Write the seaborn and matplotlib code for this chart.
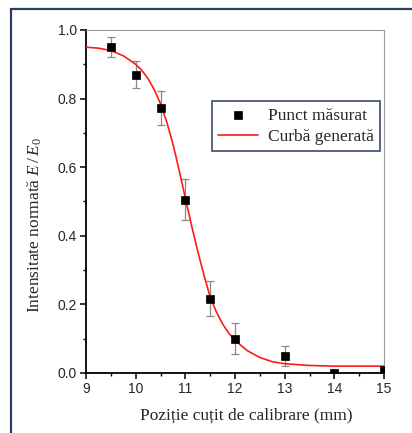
import matplotlib
matplotlib.use("Agg")
import matplotlib.pyplot as plt
import seaborn as sns
import pandas as pd
from matplotlib.patches import Rectangle
from matplotlib.ticker import MultipleLocator

# measured points
pos_mm = [9.5, 10.0, 10.5, 11.0, 11.5, 12.0, 13.0, 14.0, 15.0]
intensity = [0.950, 0.870, 0.773, 0.505, 0.217, 0.100, 0.050, 0.000, 0.010]
err = [0.030, 0.040, 0.050, 0.060, 0.050, 0.045, 0.030, 0.0, 0.0]

# generated curve
curve_x = [9.0, 9.25, 9.5, 9.75, 10.0, 10.125, 10.25, 10.375, 10.5, 10.625, 10.75,
           10.875, 11.0, 11.125, 11.25, 11.375, 11.5, 11.625, 11.75, 11.875, 12.0,
           12.25, 12.5, 12.75, 13.0, 13.5, 14.0, 15.0]
curve_y = [0.950, 0.947, 0.940, 0.925, 0.900, 0.882, 0.858, 0.826, 0.785, 0.732, 0.668,
           0.592, 0.510, 0.430, 0.355, 0.285, 0.222, 0.178, 0.143, 0.116, 0.095,
           0.065, 0.045, 0.033, 0.027, 0.022, 0.020, 0.020]

xticks = [9, 10, 11, 12, 13, 14, 15]
yticks = [0.0, 0.2, 0.4, 0.6, 0.8, 1.0]
label_points = "Punct măsurat"
label_curve = "Curbă generată"
xlabel = "Poziție cuțit de calibrare (mm)"
ylabel = r"Intensitate normată $E\,/\,E_0$"

sns.set_theme(style="ticks")
plt.rcParams["font.family"] = ["Liberation Sans", "DejaVu Sans"]
plt.rcParams["mathtext.fontset"] = "custom"
plt.rcParams["mathtext.rm"] = "Liberation Serif"
plt.rcParams["mathtext.it"] = "Liberation Serif:italic"

df_pts = pd.DataFrame({"x": pos_mm, "y": intensity})
df_curve = pd.DataFrame({"x": curve_x, "y": curve_y})

fig = plt.figure(figsize=(4.12, 4.33), dpi=100)
ax = fig.add_axes([86/412, 1-373/433, 298/412, 343/433])

navy = "#2b3d63"

ax.errorbar(pos_mm, intensity, yerr=err, fmt="none", ecolor="#8a8a8a",
            elinewidth=0.9, capsize=3, capthick=0.9, zorder=2)
sns.lineplot(data=df_curve, x="x", y="y", ax=ax, color="#ff1a1a", linewidth=1.2,
             label=label_curve, zorder=3)
sns.scatterplot(data=df_pts, x="x", y="y", ax=ax, marker="s", s=32, color="black",
                edgecolor="black", linewidth=0.5, label=label_points, zorder=4)

ax.set_xlim(9, 15)
ax.set_ylim(0, 1.0)
ax.set_xticks(xticks)
ax.set_yticks(yticks)
ax.set_yticklabels([f"{v:.1f}" for v in yticks])
ax.xaxis.set_minor_locator(MultipleLocator(0.5))
ax.yaxis.set_minor_locator(MultipleLocator(0.1))
ax.tick_params(axis="both", which="major", direction="out", length=4.5, width=1.1,
               labelsize=10, color="black", pad=2)
ax.tick_params(axis="both", which="minor", direction="out", length=2.5, width=1.0,
               color="black")
for s in ["left", "bottom"]:
    ax.spines[s].set_linewidth(1.3)
    ax.spines[s].set_color("black")
for s in ["top", "right"]:
    ax.spines[s].set_linewidth(0.8)
    ax.spines[s].set_color("#9a9a9a")
    ax.spines[s].set_visible(True)

ax.set_xlabel(xlabel, family=["Liberation Serif"], fontsize=12.5, va="center")
ax.set_ylabel(ylabel, family=["Liberation Serif"], fontsize=12.5, va="center")
ax.xaxis.set_label_coords((246-86)/298, (373-415)/343)
ax.yaxis.set_label_coords((35-86)/298, (373-225)/343)

handles, labels = ax.get_legend_handles_labels()
order = [labels.index(label_points), labels.index(label_curve)]
leg = ax.legend([handles[i] for i in order], [labels[i] for i in order],
                loc="upper right", bbox_to_anchor=(0.987, 0.792), borderaxespad=0,
                prop={"family": "Liberation Serif", "size": 12.5}, frameon=True,
                fancybox=False, edgecolor=navy, handlelength=2.3, borderpad=0.35,
                labelspacing=0.3, handletextpad=0.6)
leg.get_frame().set_linewidth(1.4)

fig.patches.append(Rectangle((10.5/412, -0.1), 1.2, 1-9.5/433 + 0.1,
                             transform=fig.transFigure, fill=False,
                             edgecolor=navy, linewidth=1.6))

fig.savefig("out.png", dpi=100)
